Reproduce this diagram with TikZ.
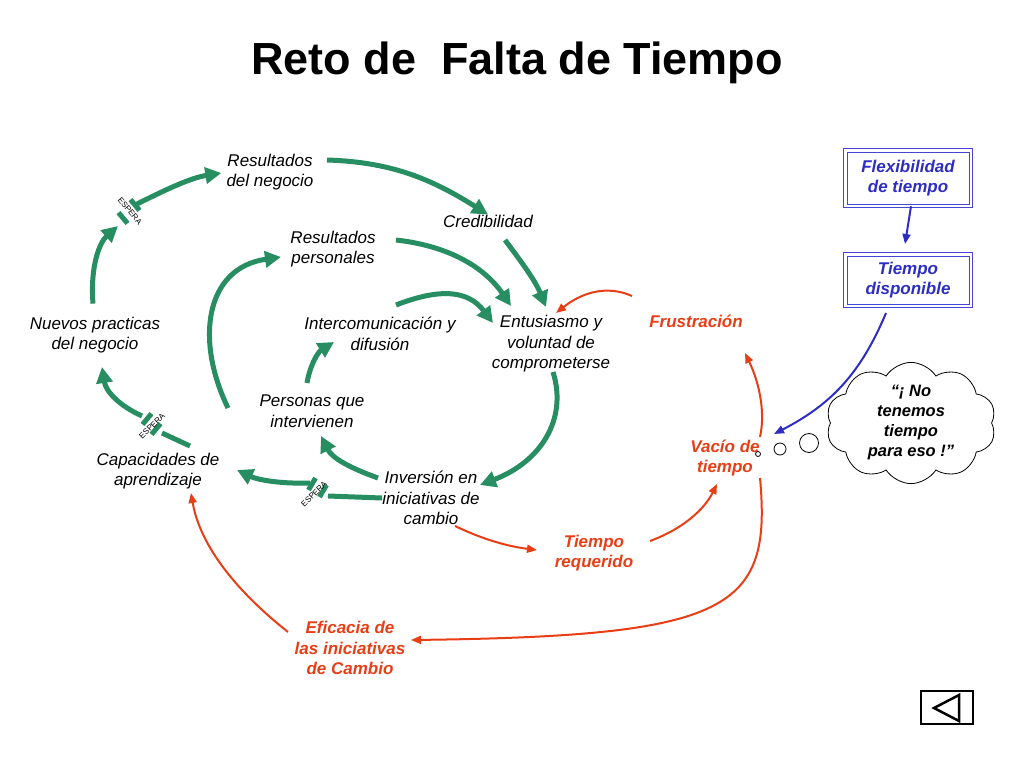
\documentclass[tikz,border=0pt]{standalone}
\usepackage{fontspec}
\setmainfont{Liberation Sans}
\usetikzlibrary{arrows.meta,shapes.symbols}
\definecolor{grn}{RGB}{38,142,96}
\definecolor{rd}{RGB}{232,62,22}
\definecolor{bl}{RGB}{45,45,195}
\definecolor{blline}{RGB}{70,70,210}
\begin{document}
\begin{tikzpicture}[x=1pt,y=-1pt,
  lbl/.style={font=\fontsize{17}{20.5}\selectfont\itshape, align=center, inner sep=0pt},
  rlbl/.style={font=\fontsize{17}{20.5}\selectfont\bfseries\itshape, text=rd, align=center, inner sep=0pt},
  blbl/.style={font=\fontsize{17}{20.5}\selectfont\bfseries\itshape, text=bl, align=center, inner sep=0pt,
               draw=blline, line width=1pt, double, double distance=2.5pt, minimum width=125.5pt},
  garr/.style={draw=grn, line width=5pt, -{Triangle[length=16pt,width=16pt]}},
  gline/.style={draw=grn, line width=5pt},
  rarr/.style={draw=rd, line width=2pt, -{Triangle[length=10pt,width=8pt]}},
  barr/.style={draw=bl, line width=2pt, -{Triangle[length=10pt,width=8pt]}},
  esp/.style={font=\fontsize{8}{9}\selectfont, inner sep=0pt},
]
\useasboundingbox (0,0) rectangle (1024,768);

% title
\node[font=\fontsize{45}{50}\selectfont\bfseries, inner sep=0pt] (title) at (517,63) {Reto de\ \ Falta de Tiempo};

% black nodes
\node[lbl] (rnego) at (270,172) {Resultados\\del negocio};
\node[lbl] (cred) at (488,221) {Credibilidad};
\node[lbl] (rpers) at (333,249) {Resultados\\personales};
\node[lbl] (nuevos) at (95,335) {Nuevos practicas\\del negocio};
\node[lbl] (inter) at (380,334) {Intercomunicación y\\difusión};
\node[lbl] (entus) at (551,344) {Entusiasmo y\\voluntad de\\comprometerse};
\node[lbl] (pers) at (312,411) {Personas que\\intervienen};
\node[lbl] (capac) at (158,471) {Capacidades de\\aprendizaje};
\node[lbl] (inver) at (431,498) {Inversión en\\iniciativas de\\cambio};

% red nodes
\node[rlbl] (frus) at (696,321) {Frustración};
\node[rlbl] (vacio) at (725,458) {Vacío de\\tiempo};
\node[rlbl] (treq) at (594,553) {Tiempo\\requerido};
\node[rlbl] (efic) at (350,648) {Eficacia de\\las iniciativas\\de Cambio};

% blue boxes
\node[blbl, minimum height=55.5pt] (flex) at (908,178) {Flexibilidad\\de tiempo};
\node[blbl, minimum height=51.5pt] (tdisp) at (908,280) {Tiempo\\disponible};

% cloud
\node[cloud, draw=black, line width=0.8pt, cloud puffs=10, cloud puff arc=115, cloud ignores aspect,
      minimum width=170pt, minimum height=120pt, inner sep=0pt,
      font=\fontsize{16.5}{20}\selectfont\bfseries\itshape, align=center] (cloud) at (911,423)
      {“¡ No\\tenemos\\tiempo\\para eso !”};
\node[circle, draw=black, line width=0.8pt, minimum size=5pt, inner sep=0pt] (b1) at (758,454) {};
\node[circle, draw=black, line width=0.8pt, minimum size=12pt, inner sep=0pt] (b2) at (780,449) {};
\node[circle, draw=black, line width=0.8pt, minimum size=19pt, inner sep=0pt] (b3) at (809,443) {};

% named connector points
\coordinate (e1b) at (135,205);

% green connectors
\draw[garr] (nuevos.north) ++(-2,-13) .. controls (90,265) and (100,242) .. (118,226);
\draw[gline] (118.5,212.6) -- (127.5,223.4);
\draw[gline] (130.5,199.6) -- (139.5,210.4);
\node[esp, rotate=-50] (espA) at (130,211) {ESPERA};
\draw[garr] (e1b) .. controls (165,190) and (190,178) .. ([xshift=-5pt,yshift=-1pt]rnego.west);

\draw[garr] (327,160) .. controls (390,162) and (430,178) .. (cred.north);
\draw[garr] (505,240) .. controls (520,260) and (535,280) .. (546,307);
\draw[garr] (396,240) .. controls (450,246) and (485,268) .. (511,306);
\draw[garr] (396,305) .. controls (440,288) and (468,290) .. (493,323);
\draw[garr] (553,372) .. controls (568,420) and (540,462) .. (480,485);
\draw[garr] (378,478) .. controls (350,468) and (332,458) .. (321,436);
\draw[garr] (307,383) .. controls (310,365) and (318,352) .. (334,342);
\draw[garr] (228,408) .. controls (195,340) and (205,268) .. (281,257);

% ESPERA near Capacidades
\draw[gline] (190,446) -- (162,433);
\draw[gline] (142.5,424.4) -- (151.5,413.6);
\draw[gline] (151.5,434.4) -- (160.5,423.6);
\node[esp, rotate=45] (espB) at (152,426) {ESPERA};
\draw[garr] (142,416) .. controls (120,406) and (106,392) .. (102,367);

% ESPERA near Inversion
\draw[gline] (inver.west) -- (328,496);
\draw[gline] (308.5,490) -- (315.5,478);
\draw[gline] (319.5,497) -- (326.5,485);
\node[esp, rotate=45] (espC) at (314,494) {ESPERA};
\draw[garr] (310,483) .. controls (282,484) and (258,480) .. (237,470);

% red connectors
\draw[rarr] (455,526) .. controls (480,538) and (505,546) .. (537,550);
\draw[rarr] (650,541) .. controls (685,528) and (705,508) .. (717,484);
\draw[rarr] (760,437) .. controls (766,410) and (758,380) .. (745,353);
\draw[rarr] (632,296) .. controls (605,284) and (580,294) .. (556,313);
\draw[rarr] (760,478) .. controls (772,610) and (730,636) .. (411,640);
\draw[rarr] (288,632) .. controls (235,590) and (200,545) .. (191,493);

% blue connectors
\draw[barr] (flex.south) ++(3,0) -- (905,244);
\draw[barr] (886,313) .. controls (860,375) and (830,405) .. (774,434);

% icon
\draw[line width=2.5pt] (921,691) rectangle (973,724);
\draw[line width=2.5pt, line join=miter] (959,695) -- (934,708) -- (959,721) -- cycle;
\end{tikzpicture}
\end{document}
